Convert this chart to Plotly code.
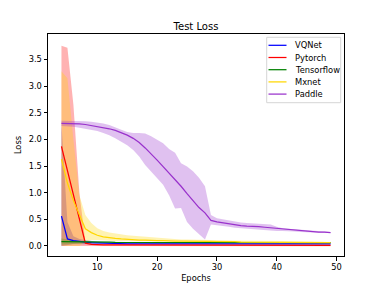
import plotly.graph_objects as go

epochs = list(range(4, 50))

vqnet_mean = [0.56, 0.13, 0.10, 0.08, 0.07, 0.06, 0.055, 0.05, 0.05, 0.045,
              0.045, 0.04, 0.04, 0.04, 0.04, 0.04, 0.04, 0.04, 0.04, 0.04,
              0.04, 0.04, 0.04, 0.04, 0.04, 0.04, 0.04, 0.04, 0.04, 0.04,
              0.04, 0.04, 0.04, 0.04, 0.04, 0.04, 0.04, 0.04, 0.04, 0.04,
              0.04, 0.04, 0.04, 0.04, 0.04, 0.04]
vqnet_low = [0.0, 0.02, 0.03, 0.03, 0.03, 0.03, 0.03, 0.035, 0.035, 0.035,
             0.035, 0.03, 0.03, 0.03, 0.03, 0.03, 0.03, 0.03, 0.03, 0.03,
             0.03, 0.03, 0.03, 0.03, 0.03, 0.03, 0.03, 0.03, 0.03, 0.03,
             0.03, 0.03, 0.03, 0.03, 0.03, 0.03, 0.03, 0.03, 0.03, 0.03,
             0.03, 0.03, 0.03, 0.03, 0.03, 0.03]
vqnet_high = [2.30, 0.45, 0.18, 0.13, 0.11, 0.09, 0.08, 0.07, 0.065, 0.06,
              0.055, 0.05, 0.05, 0.05, 0.05, 0.05, 0.05, 0.05, 0.05, 0.05,
              0.05, 0.05, 0.05, 0.05, 0.05, 0.05, 0.05, 0.05, 0.05, 0.05,
              0.05, 0.05, 0.05, 0.05, 0.05, 0.05, 0.05, 0.05, 0.05, 0.05,
              0.05, 0.05, 0.05, 0.05, 0.05, 0.05]

pytorch_mean = [1.87, 1.42, 0.95, 0.50, 0.05, 0.03, 0.02, 0.02, 0.02, 0.02,
                0.02, 0.02, 0.015, 0.015, 0.015, 0.015, 0.015, 0.01, 0.01, 0.01,
                0.01, 0.01, 0.01, 0.01, 0.01, 0.01, 0.01, 0.01, 0.01, 0.01,
                0.01, 0.01, 0.01, 0.01, 0.01, 0.01, 0.01, 0.01, 0.01, 0.01,
                0.01, 0.01, 0.01, 0.01, 0.01, 0.01]
pytorch_low = [0.0, 0.0, 0.0, 0.0, 0.0, 0.0, -0.005, -0.005, -0.005, -0.005,
               -0.005, -0.005, -0.005, -0.005, -0.005, -0.005, -0.005, -0.005, -0.005, -0.005,
               -0.005, -0.005, -0.005, -0.005, -0.005, -0.005, -0.005, -0.005, -0.005, -0.005,
               -0.005, -0.005, -0.005, -0.005, -0.005, -0.005, -0.005, -0.005, -0.005, -0.005,
               -0.005, -0.005, -0.005, -0.005, -0.005, -0.005]
pytorch_high = [3.76, 3.72, 2.65, 1.00, 0.08, 0.05, 0.04, 0.035, 0.03, 0.03,
                0.03, 0.03, 0.025, 0.025, 0.025, 0.025, 0.025, 0.025, 0.025, 0.025,
                0.025, 0.025, 0.025, 0.025, 0.025, 0.025, 0.025, 0.025, 0.025, 0.025,
                0.025, 0.025, 0.025, 0.025, 0.025, 0.025, 0.025, 0.025, 0.025, 0.025,
                0.025, 0.025, 0.025, 0.025, 0.025, 0.025]

tensorflow_mean = [0.08, 0.08, 0.08, 0.075, 0.07, 0.07, 0.07, 0.07, 0.07, 0.065,
                   0.065, 0.065, 0.065, 0.065, 0.065, 0.065, 0.065, 0.065, 0.065, 0.065,
                   0.065, 0.065, 0.06, 0.06, 0.06, 0.06, 0.06, 0.06, 0.06, 0.06,
                   0.06, 0.06, 0.06, 0.06, 0.06, 0.06, 0.06, 0.06, 0.06, 0.06,
                   0.06, 0.06, 0.06, 0.06, 0.06, 0.06]
tensorflow_low = [0.02, 0.03, 0.04, 0.05, 0.055, 0.06, 0.06, 0.06, 0.06, 0.055,
                  0.055, 0.055, 0.055, 0.055, 0.055, 0.055, 0.055, 0.055, 0.055, 0.055,
                  0.055, 0.055, 0.05, 0.05, 0.05, 0.05, 0.05, 0.05, 0.05, 0.05,
                  0.05, 0.05, 0.05, 0.05, 0.05, 0.05, 0.05, 0.05, 0.05, 0.05,
                  0.05, 0.05, 0.05, 0.05, 0.05, 0.05]
tensorflow_high = [0.14, 0.12, 0.10, 0.09, 0.085, 0.08, 0.08, 0.08, 0.08, 0.075,
                   0.075, 0.075, 0.075, 0.075, 0.075, 0.075, 0.075, 0.075, 0.075, 0.075,
                   0.075, 0.075, 0.07, 0.07, 0.07, 0.07, 0.07, 0.07, 0.07, 0.07,
                   0.07, 0.07, 0.07, 0.07, 0.07, 0.07, 0.07, 0.07, 0.07, 0.07,
                   0.07, 0.07, 0.07, 0.07, 0.07, 0.07]

mxnet_mean = [1.63, 1.18, 0.85, 0.58, 0.32, 0.25, 0.20, 0.17, 0.15, 0.14,
              0.13, 0.12, 0.12, 0.11, 0.11, 0.10, 0.10, 0.10, 0.09, 0.09,
              0.09, 0.09, 0.09, 0.09, 0.08, 0.08, 0.08, 0.08, 0.08, 0.08,
              0.07, 0.07, 0.07, 0.07, 0.07, 0.07, 0.07, 0.07, 0.07, 0.07,
              0.065, 0.065, 0.065, 0.06, 0.06, 0.06]
mxnet_low = [0.0, 0.0, 0.0, 0.0, 0.08, 0.11, 0.11, 0.10, 0.10, 0.09,
             0.09, 0.09, 0.09, 0.09, 0.09, 0.085, 0.085, 0.085, 0.08, 0.08,
             0.08, 0.08, 0.08, 0.08, 0.07, 0.07, 0.07, 0.07, 0.07, 0.07,
             0.06, 0.06, 0.06, 0.06, 0.06, 0.06, 0.06, 0.06, 0.06, 0.06,
             0.055, 0.055, 0.055, 0.05, 0.05, 0.05]
mxnet_high = [3.28, 3.15, 2.00, 0.95, 0.58, 0.43, 0.33, 0.28, 0.25, 0.23,
              0.21, 0.20, 0.19, 0.18, 0.17, 0.16, 0.15, 0.14, 0.13, 0.13,
              0.12, 0.12, 0.12, 0.11, 0.11, 0.11, 0.10, 0.10, 0.10, 0.10,
              0.09, 0.09, 0.09, 0.09, 0.09, 0.09, 0.09, 0.09, 0.085, 0.085,
              0.08, 0.08, 0.08, 0.075, 0.075, 0.075]

paddle_mean = [2.30, 2.30, 2.30, 2.29, 2.28, 2.26, 2.25, 2.23, 2.20, 2.17,
               2.13, 2.08, 2.02, 1.94, 1.84, 1.73, 1.61, 1.49, 1.37, 1.25,
               1.12, 0.98, 0.84, 0.72, 0.62, 0.48, 0.45, 0.43, 0.41, 0.39,
               0.38, 0.37, 0.37, 0.36, 0.35, 0.34, 0.32, 0.31, 0.30, 0.29,
               0.28, 0.27, 0.27, 0.26, 0.26, 0.25]
paddle_low = [2.25, 2.25, 2.24, 2.22, 2.20, 2.18, 2.16, 2.12, 2.08, 2.02,
              1.96, 1.89, 1.80, 1.68, 1.52, 1.40, 1.27, 1.15, 0.95, 0.70,
              0.71, 0.45, 0.32, 0.22, 0.12, 0.40, 0.39, 0.37, 0.36, 0.34,
              0.33, 0.32, 0.32, 0.31, 0.30, 0.29, 0.28, 0.28, 0.28, 0.27,
              0.26, 0.25, 0.25, 0.25, 0.24, 0.24]
paddle_high = [2.35, 2.35, 2.35, 2.34, 2.34, 2.33, 2.32, 2.30, 2.27, 2.22,
               2.18, 2.14, 2.12, 2.12, 2.11, 2.06, 2.00, 1.93, 1.82, 1.75,
               1.55, 1.49, 1.40, 1.28, 1.12, 0.58, 0.52, 0.50, 0.47, 0.45,
               0.44, 0.43, 0.42, 0.42, 0.41, 0.40, 0.36, 0.33, 0.32, 0.31,
               0.30, 0.29, 0.28, 0.27, 0.27, 0.26]

series_names = ["VQNet", "Pytorch", "Tensorflow", "Mxnet", "Paddle"]
line_colors = ["#0000ff", "#ff0000", "#008000", "#ffd700", "#9932cc"]
fill_colors = ["rgba(0,0,255,0.3)", "rgba(255,0,0,0.3)", "rgba(0,128,0,0.3)",
               "rgba(255,215,0,0.3)", "rgba(153,50,204,0.3)"]
means = [vqnet_mean, pytorch_mean, tensorflow_mean, mxnet_mean, paddle_mean]
lows = [vqnet_low, pytorch_low, tensorflow_low, mxnet_low, paddle_low]
highs = [vqnet_high, pytorch_high, tensorflow_high, mxnet_high, paddle_high]

FONT = "DejaVu Sans"
W, H = 383, 288
ML, MR, MT, MB = 48, 39, 34, 32
PW, PH = W - ML - MR, H - MT - MB


def px2x(px):
    return (px - ML) / PW


def py2y(py):
    return (H - MB - py) / PH


fig = go.Figure()

for name, lo, hi, fc in zip(series_names, lows, highs, fill_colors):
    fig.add_trace(go.Scatter(x=epochs, y=lo, mode="lines", line=dict(width=0),
                             showlegend=False, hoverinfo="skip"))
    fig.add_trace(go.Scatter(x=epochs, y=hi, mode="lines", line=dict(width=0),
                             fill="tonexty", fillcolor=fc,
                             showlegend=False, hoverinfo="skip"))

for name, m, lc in zip(series_names, means, line_colors):
    fig.add_trace(go.Scatter(x=epochs, y=m, mode="lines", name=name,
                             line=dict(color=lc, width=1.25), showlegend=False))

# manual legend (matplotlib-like compact layout)
shapes = [dict(type="rect", xref="paper", yref="paper",
               x0=px2x(266.7), x1=px2x(340.7), y0=py2y(102.7), y1=py2y(37.3),
               line=dict(color="#d6d6d6", width=1),
               fillcolor="rgba(255,255,255,0.8)", layer="above")]
annotations = []
for i, (name, lc) in enumerate(zip(series_names, line_colors)):
    yy = 45.3 + i * 12.2
    shapes.append(dict(type="line", xref="paper", yref="paper",
                       x0=px2x(268.5), x1=px2x(286.5), y0=py2y(yy), y1=py2y(yy),
                       line=dict(color=lc, width=1.25), layer="above"))
    annotations.append(dict(text=name, xref="paper", yref="paper",
                            x=px2x(292.5), y=py2y(yy), xanchor="left",
                            yanchor="middle", showarrow=False,
                            font=dict(family=FONT, size=8.3, color="black")))

axis_common = dict(showline=True, linecolor="black", linewidth=1, mirror=True,
                   ticks="outside", ticklen=3.5, tickwidth=1, tickcolor="black",
                   showgrid=False, zeroline=False, automargin=False,
                   tickfont=dict(family=FONT, size=8.3, color="black"))

fig.update_layout(
    width=W, height=H,
    margin=dict(l=ML, r=MR, t=MT, b=MB, autoexpand=False),
    paper_bgcolor="white", plot_bgcolor="white",
    font=dict(family=FONT, size=8.3, color="black"),
    showlegend=False,
    title=dict(text="Test Loss", x=0.5, xref="paper", xanchor="center",
               y=1 - 26 / 288, yref="container", yanchor="middle",
               font=dict(family=FONT, size=10, color="black")),
    xaxis=dict(range=[1.75, 51.25], tickvals=[10, 20, 30, 40, 50],
               title=dict(text="Epochs", standoff=3,
                          font=dict(family=FONT, size=8.3, color="black")),
               **axis_common),
    yaxis=dict(range=[-0.19, 3.98], tickvals=[0, 0.5, 1, 1.5, 2, 2.5, 3, 3.5],
               tickformat=".1f",
               title=dict(text="Loss", standoff=5,
                          font=dict(family=FONT, size=8.3, color="black")),
               **axis_common),
    shapes=shapes,
    annotations=annotations,
)

fig.write_html("out.html",
               config={"displayModeBar": False, "staticPlot": True},
               post_script="document.body.style.margin='0';"
                           "document.body.style.padding='0';")
